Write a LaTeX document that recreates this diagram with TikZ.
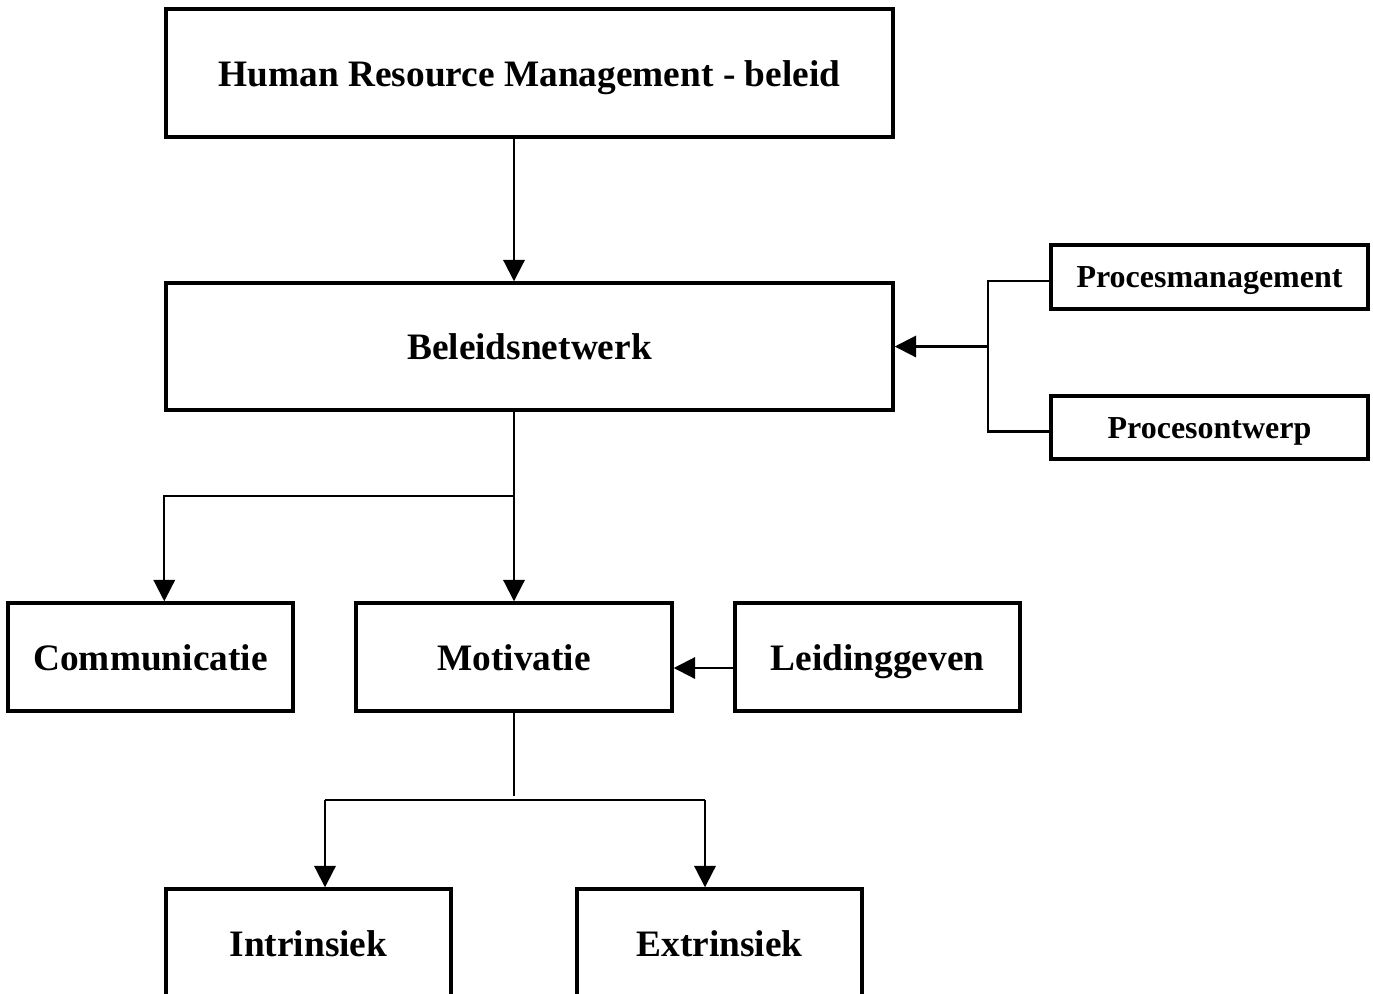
\documentclass[tikz,border=0pt]{standalone}
\usepackage{fontspec}
\setmainfont{Liberation Serif}
\usetikzlibrary{arrows.meta}
\begin{document}
\begin{tikzpicture}[x=0.75pt,y=-0.75pt,
  box/.style={draw, line width=2.6pt, rectangle, inner sep=0pt, align=center,
    text height=20pt, text depth=0pt,
    font=\fontsize{28}{32}\selectfont\bfseries},
  smallbox/.style={box, text height=16pt, font=\fontsize{24}{28}\selectfont\bfseries},
  conn/.style={line width=1.6pt},
  arr/.style={conn, -{Triangle[length=16pt,width=16pt]}}]
\clip (0,0) rectangle (1373,993);
\useasboundingbox (0,0) rectangle (1373,993);
\fill[white] (0,0) rectangle (1373,993);
\node[box, minimum width=727*0.75pt, minimum height=128*0.75pt] (hrm) at (529.5,73) {Human Resource Management - beleid};
\node[box, minimum width=727*0.75pt, minimum height=127*0.75pt] (bel) at (529.5,346.5) {Beleidsnetwerk};
\node[smallbox, minimum width=317*0.75pt, minimum height=64*0.75pt] (pm) at (1209.5,277) {Procesmanagement};
\node[smallbox, minimum width=317*0.75pt, minimum height=63*0.75pt] (po) at (1209.5,427.5) {Procesontwerp};
\node[box, minimum width=285*0.75pt, minimum height=108*0.75pt] (com) at (150.5,657) {Communicatie};
\node[box, minimum width=316*0.75pt, minimum height=108*0.75pt] (mot) at (514,657) {Motivatie};
\node[box, minimum width=285*0.75pt, minimum height=108*0.75pt] (lei) at (877.5,657) {Leidinggeven};
\node[box, minimum width=285*0.75pt, minimum height=108*0.75pt] (int) at (308.5,943) {Intrinsiek};
\node[box, minimum width=285*0.75pt, minimum height=108*0.75pt] (ext) at (719.5,943) {Extrinsiek};
% connectors
\draw[arr] (hrm.south -| mot) -- (bel.north -| mot);
\draw[arr] (bel.south -| mot) -- (mot.north);
\coordinate (j1) at (514,496);
\draw[arr] (j1) -- (j1 -| bel.west) -- (com.north -| bel.west);
\coordinate (j2) at (988,346.5);
\draw[arr] (j2) -- (bel.east);
\draw[conn] ([yshift=-3pt]pm.west) -| (j2) |- ([yshift=-3pt]po.west);
\draw[arr] ([yshift=-8.25pt]lei.west) -- ([yshift=-8.25pt]mot.east);
\coordinate (j3) at (514,796);
\coordinate (l3) at (325,800);
\coordinate (r3) at (705,800);
\draw[conn] (mot.south) -- (j3);
\draw[conn] (l3) -- (r3);
\draw[arr] (l3) -- (int.north -| l3);
\draw[arr] (r3) -- (ext.north -| r3);
\end{tikzpicture}
\end{document}
